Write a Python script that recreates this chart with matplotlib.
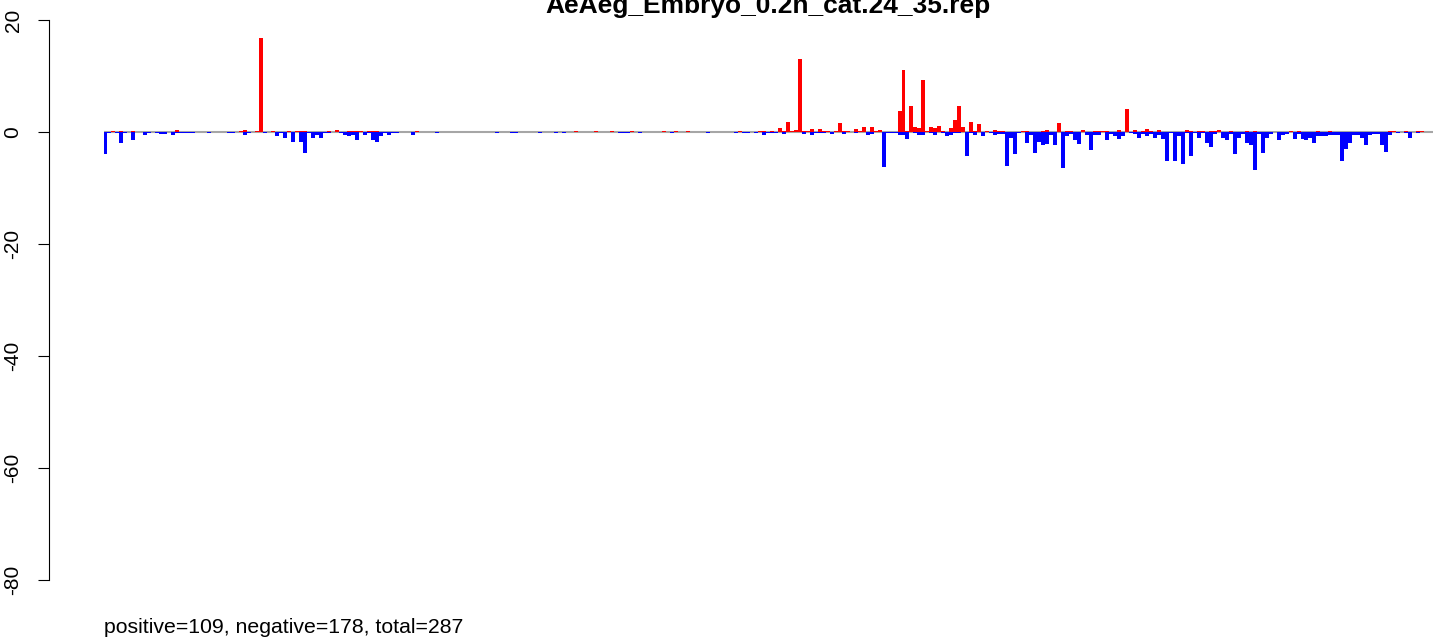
import numpy as np
import matplotlib
matplotlib.use("Agg")
import matplotlib.pyplot as plt

plt.rcParams['font.family'] = ['Liberation Sans', 'DejaVu Sans']

title = "AeAeg_Embryo_0.2h_cat.24_35.rep"
footer = "positive=109, negative=178, total=287"
yticks = [20, 0, -20, -40, -60, -80]

# per-bar positive (red) values
pos = [
    0, 0, 0.2, 0, 0.2, 0, 0, 0.2, 0, 0, 0, 0, 0, 0, 0, 0, 0, 0, 0.3, 0,
    0, 0, 0, 0, 0, 0, 0, 0, 0, 0, 0, 0, 0, 0, 0.1, 0.3, 0, 0, 0.1, 16.8,
    0, 0, 0.1, 0, 0, 0, 0.1, 0, 0.1, 0.1, 0.2, 0, 0, 0, 0, 0, 0.1, 0, 0.35, 0,
    0, 0.1, 0.1, 0.1, 0.2, 0, 0.1, 0.1, 0.1, 0, 0, 0, 0, 0, 0, 0, 0, 0, 0.2, 0,
    0, 0, 0, 0, 0, 0, 0, 0, 0, 0, 0, 0, 0, 0, 0, 0, 0, 0, 0, 0,
    0, 0, 0, 0, 0, 0, 0, 0, 0, 0, 0, 0, 0, 0, 0, 0, 0, 0, 0.1, 0,
    0, 0, 0, 0.1, 0, 0, 0, 0.1, 0, 0, 0, 0, 0.1, 0, 0, 0, 0, 0, 0, 0,
    0.1, 0, 0, 0.2, 0, 0, 0.1, 0, 0, 0, 0, 0, 0, 0, 0, 0, 0, 0, 0, 0.2,
    0, 0, 0, 0, 0.1, 0.1, 0, 0.2, 0, 0.7, 0.2, 1.8, 0.1, 0.35, 13.0, 0.2, 0.2, 0.5, 0, 0.5,
    0.1, 0.2, 0, 0.1, 1.6, 0.2, 0.2, 0, 0.5, 0.1, 0.9, 0, 0.9, 0.1, 0.35, 0, 0, 0, 0, 3.75,
    11.1, 0.2, 4.6, 0.9, 0.7, 9.3, 0.2, 0.9, 0.7, 1.1, 0.2, 0, 0.7, 2.1, 4.6, 0.9, 0, 1.8, 0.1, 1.4,
    0, 0.1, 0, 0.35, 0.2, 0.2, 0, 0, 0, 0, 0.2, 0.2, 0, 0, 0, 0.1, 0.35, 0, 0, 1.6,
    0, 0.1, 0.1, 0, 0, 0.35, 0, 0, 0.1, 0.1, 0.1, 0.2, 0, 0, 0.35, 0, 4.1, 0, 0.35, 0,
    0.1, 0.5, 0.2, 0, 0.35, 0, 0, 0, 0, 0, 0, 0.35, 0.1, 0, 0.1, 0.1, 0, 0.2, 0.2, 0.35,
    0, 0, 0.2, 0, 0, 0, 0.1, 0, 0.1, 0, 0, 0, 0, 0, 0, 0, 0, 0.1, 0, 0.2,
    0, 0, 0, 0, 0.2, 0, 0, 0.2, 0, 0, 0, 0, 0, 0, 0, 0, 0, 0, 0, 0,
    0, 0, 0.2, 0.1, 0, 0, 0.2, 0, 0, 0.2, 0.1,
]

# per-bar negative (blue) values
neg = [
    -4.0, -0.2, 0, -0.2, -1.9, -0.1, 0, -1.5, 0, 0, -0.5, -0.2, 0, -0.1, -0.3, -0.3, 0, -0.5, -0.2, -0.2,
    -0.2, -0.2, -0.2, 0, 0, 0, -0.2, 0, 0, 0, 0, -0.1, -0.1, 0, 0, -0.6, -0.2, 0, 0, 0,
    -0.2, 0, 0, -0.8, -0.1, -1.0, 0, -1.7, 0, -1.7, -3.7, -0.2, -1.0, -0.6, -1.0, -0.1, -0.2, 0, 0, -0.2,
    -0.5, -0.8, -0.6, -1.5, 0, -0.5, -0.2, -1.5, -1.7, -0.8, -0.2, -0.6, -0.2, -0.2, 0, 0, 0, -0.6, 0, 0,
    0, 0, 0, -0.1, 0, 0, 0, 0, 0, 0, 0, 0, 0, 0, 0, 0, 0, 0, -0.1, 0,
    0, 0, -0.1, -0.1, 0, 0, 0, 0, 0, -0.2, 0, 0, 0, -0.2, 0, -0.1, 0, 0, 0, 0,
    0, 0, 0, 0, 0, 0, 0, 0, 0, -0.2, -0.2, -0.1, 0, 0, -0.2, 0, 0, 0, 0, 0,
    0, 0, -0.1, 0, 0, 0, 0, 0, 0, 0, 0, -0.1, 0, 0, 0, 0, 0, 0, -0.1, 0,
    -0.1, -0.1, 0, -0.2, 0, -0.5, -0.1, -0.2, -0.2, 0, -0.3, 0, 0, 0, 0, -0.3, 0, -0.5, -0.2, -0.2,
    -0.1, 0, -0.3, 0, 0, -0.3, 0, 0, -0.2, 0, 0, -0.5, -0.3, 0, 0, -6.2, -0.2, -0.2, -0.2, -0.5,
    -0.5, -1.2, 0, -0.2, -0.5, -0.5, 0, -0.2, -0.5, 0, -0.2, -0.8, -0.5, -0.1, -0.2, 0, -4.2, -0.2, -0.5, 0,
    -0.8, 0, -0.1, -0.5, -0.3, -0.3, -6.0, -1.0, -4.0, -0.2, 0, -1.9, -0.5, -3.7, -1.7, -2.3, -2.1, -0.5, -2.3, 0,
    -6.4, -0.8, -0.3, -1.5, -2.1, 0, -0.5, -3.2, -0.5, -0.5, 0, -1.5, -0.3, -0.8, -1.2, -0.8, 0, -0.2, -0.3, -1.0,
    -0.3, -0.8, -0.3, -1.0, -0.5, -1.2, -5.2, -0.2, -5.2, -0.8, -5.7, -0.2, -4.2, -0.2, -1.0, -0.2, -1.9, -2.6, -0.3, 0,
    -1.0, -1.4, -0.3, -3.9, -1.0, -0.3, -1.9, -2.4, -6.7, -0.3, -3.7, -1.0, -0.3, 0, -1.4, -0.5, -0.3, 0, -1.2, -0.3,
    -1.2, -1.4, -1.0, -1.9, -0.8, -0.8, -0.8, -0.5, -0.5, -0.5, -5.1, -3.0, -1.9, -0.5, -0.5, -1.0, -2.3, -0.5, -0.3, -0.3,
    -2.4, -3.5, -0.5, 0, -0.1, 0, -0.1, -1.0, 0, -0.1, 0,
]

W, H = 1433, 638
fig = plt.figure(figsize=(W / 100, H / 100), dpi=100)

# plot area: axis line at x=49px, bars start at 103.5px, 3.99px per bar
ax = fig.add_axes([49 / W, 0, (W - 49) / W, 1])
n = len(pos)
x = np.arange(n)
xlo = (49 - 103.5) / 3.99
xhi = (W - 103.5) / 3.99
ax.set_xlim(xlo, xhi)
ax.set_ylim(-80 - 58 / 5.6, 20 + 20 / 5.6)

ax.hlines(0, 0, xhi, color="#a6a6a6", lw=1.5, zorder=1)
ax.bar(x, pos, width=1, align="edge", color="#ff0000", linewidth=0, antialiased=False, zorder=2)
ax.bar(x, neg, width=1, align="edge", color="#0000ff", linewidth=0, antialiased=False, zorder=2)

for s in ["top", "right", "bottom"]:
    ax.spines[s].set_visible(False)
ax.spines["left"].set_bounds(-80, 20)
ax.spines["left"].set_linewidth(0.8)
ax.set_xticks([])
ax.set_yticks(yticks)
ax.set_yticklabels([str(t) for t in yticks], rotation=90, va="center")
ax.tick_params(axis="y", length=8, width=0.8, pad=11, labelsize=15)

fig.text(767.5 / W, 1 - 12.5 / H, title, ha="center", va="baseline",
         fontsize=19, fontweight="bold")
fig.text(104 / W, 1 - 633 / H, footer, ha="left", va="baseline", fontsize=15.3)

fig.savefig("out.png", dpi=100)
